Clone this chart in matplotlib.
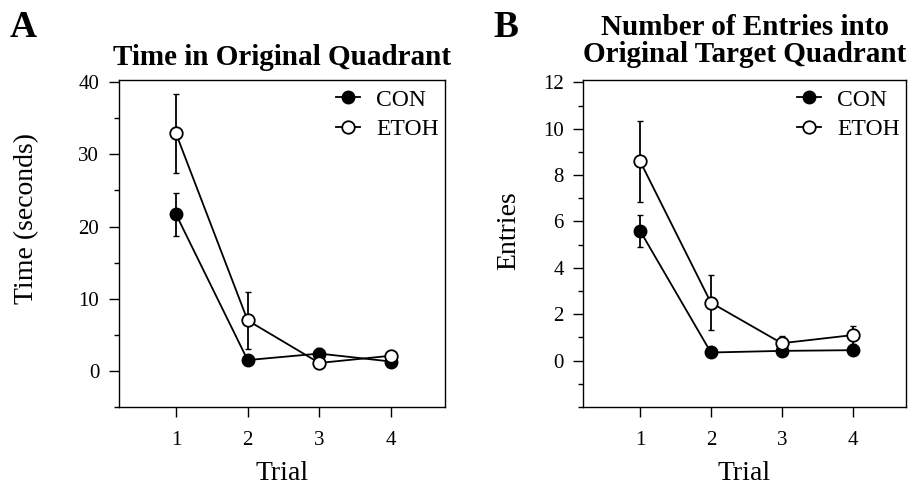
import matplotlib
matplotlib.use("Agg")
from matplotlib import pyplot as plt
from matplotlib.ticker import MultipleLocator
import numpy as np

plt.rcParams['font.family'] = ['Liberation Serif', 'DejaVu Serif']

trials = [1, 2, 3, 4]

# panel A: time in original quadrant (seconds)
time_con = [21.7, 1.5, 2.4, 1.3]
time_con_err = [3.0, 0.3, 0.8, 0.3]
time_etoh = [32.9, 7.0, 1.1, 2.1]
time_etoh_err = [5.5, 3.9, 0.3, 0.4]

# panel B: number of entries
ent_con = [5.6, 0.35, 0.42, 0.45]
ent_con_err = [0.68, 0.1, 0.1, 0.1]
ent_etoh = [8.6, 2.5, 0.75, 1.1]
ent_etoh_err = [1.75, 1.2, 0.3, 0.4]

fig = plt.figure(figsize=(9.13, 4.88), dpi=100)
axA = fig.add_axes([0.130, 0.166, 0.357, 0.670])
axB = fig.add_axes([0.639, 0.166, 0.353, 0.670])


def draw(ax, con, con_err, etoh, etoh_err):
    ax.errorbar(trials, con, yerr=con_err, fmt='none', ecolor='black',
                elinewidth=1.3, capsize=2, zorder=2)
    ax.errorbar(trials, etoh, yerr=etoh_err, fmt='none', ecolor='black',
                elinewidth=1.3, capsize=2, zorder=2)
    ax.plot(trials, con, color='black', lw=1.3, marker='o', ms=9,
            mfc='black', mec='black', label='CON', zorder=3)
    ax.plot(trials, etoh, color='black', lw=1.3, marker='o', ms=9,
            mfc='white', mec='black', mew=1.3, label='ETOH', zorder=4)
    ax.set_xlim(0.2, 4.75)
    ax.set_xticks(trials)
    ax.tick_params(axis='both', direction='out', labelsize=15, length=7,
                   width=1, pad=7)
    ax.tick_params(axis='x', pad=10)
    ax.tick_params(which='minor', direction='out', length=3.5, width=1)
    ax.set_xlabel('Trial', fontsize=20)
    ax.xaxis.set_label_coords(0.5, -0.165)
    ax.legend(loc='upper right', frameon=False, fontsize=17,
              handlelength=1.0, handletextpad=0.7, borderpad=0.0,
              borderaxespad=0.25, labelspacing=0.33,
              bbox_to_anchor=(1.0, 0.99))
    for s in ax.spines.values():
        s.set_linewidth(1)


draw(axA, time_con, time_con_err, time_etoh, time_etoh_err)
axA.set_ylim(-5, 40.3)
axA.set_yticks([0, 10, 20, 30, 40])
axA.yaxis.set_minor_locator(MultipleLocator(5))
axA.set_ylabel('Time (seconds)', fontsize=20, va='center')
axA.yaxis.set_label_coords(-0.282, 0.575)
axA.set_title('Time in Original Quadrant', fontsize=21, fontweight='bold', pad=11)

draw(axB, ent_con, ent_con_err, ent_etoh, ent_etoh_err)
axB.set_ylim(-2, 12.1)
axB.set_yticks([0, 2, 4, 6, 8, 10, 12])
axB.yaxis.set_minor_locator(MultipleLocator(1))
axB.set_ylabel('Entries', fontsize=20, va='center')
axB.yaxis.set_label_coords(-0.233, 0.54)
axB.set_title('Number of Entries into\nOriginal Target Quadrant', fontsize=21,
              fontweight='bold', pad=13, linespacing=1.0)

fig.text(0.011, 0.924, 'A', fontsize=27, fontweight='bold', va='baseline')
fig.text(0.540, 0.924, 'B', fontsize=27, fontweight='bold', va='baseline')

fig.savefig('out.png', dpi=100)
